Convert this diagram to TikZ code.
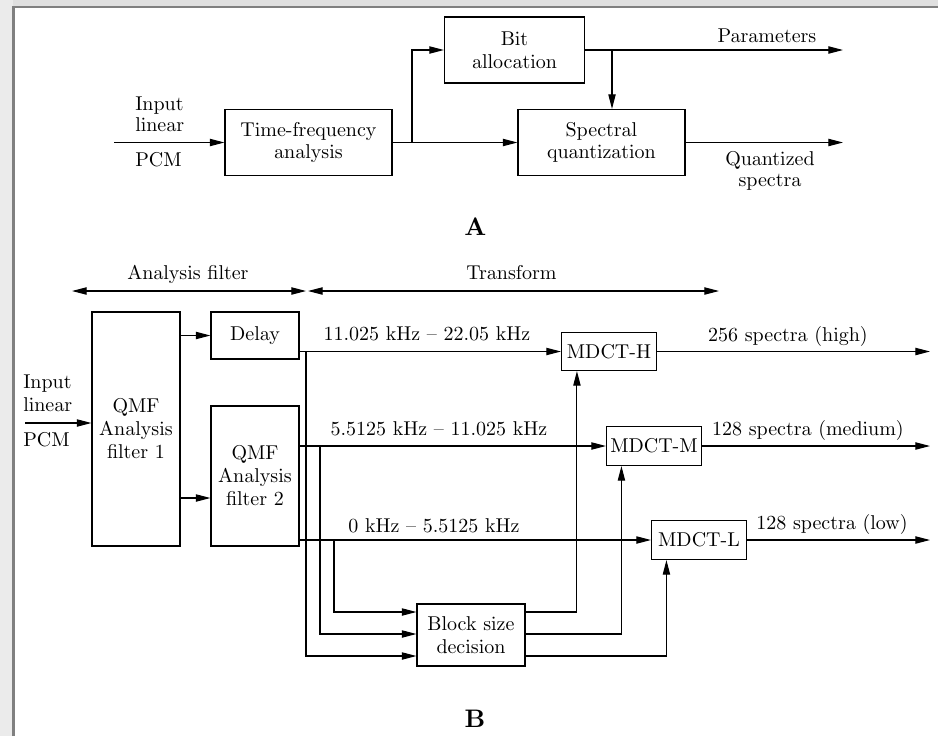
\documentclass[tikz,border=0pt]{standalone}
\usetikzlibrary{arrows.meta,calc}
\font\diagfont=cmr10 at 15pt
\font\diagbf=cmbx10 at 19pt
\newcommand\dgfont{\diagfont\baselineskip=17.2pt\relax}
\begin{document}
\begin{tikzpicture}[x=0.75pt,y=-0.75pt,
  every node/.style={font=\dgfont, inner sep=0pt},
  box/.style 2 args={draw, line width=0.85pt, minimum width=#1*0.75pt, minimum height=#2*0.75pt, align=center},
  arr/.style={line width=0.8pt, -{Triangle[length=11pt,width=5.5pt]}},
  dbl/.style={line width=0.8pt, {Triangle[length=11pt,width=5.5pt]}-{Triangle[length=11pt,width=5.5pt]}},
  lbl/.style={font=\diagbf}
]
\useasboundingbox (0,0) rectangle (938,736);
\fill[white] (0,0) rectangle (938,736);
\fill[black!12] (0,0) rectangle (938,7);
\fill[black!8] (0,0) rectangle (13,736);
\draw[black!50, line width=1.8pt] (13.5,736) -- (13.5,7) -- (938,7);

% ---------- Part A ----------
\node[box={167}{66}] (tf) at (308.5,142.5) {Time-frequency\\analysis};
\node[box={140}{66}] (ba) at (514.5,50) {Bit\\allocation};
\node[box={167}{66}] (sq) at (601.5,142.5) {Spectral\\quantization};
\coordinate (inA) at (114,142.5);
\coordinate (j1) at (412,142.5);
\coordinate (j2) at (612,50);
\coordinate (pout) at (843,50);
\coordinate (qout) at (843,142.5);
\draw[arr] (inA) -- (tf.west);
\draw[arr] (tf.east) -- (sq.west);
\draw[arr] (j1) |- (ba.west);
\draw[arr] (ba.east) -- (pout);
\draw[arr] (j2) -- (j2 |- sq.north);
\draw[arr] (sq.east) -- (qout);
\node[anchor=base west] (ain1) at (135,110) {Input};
\node[anchor=base west] (ain2) at (135,131.7) {linear};
\node[anchor=base west] (ain3) at (135,166.7) {PCM};
\node[anchor=base] (tpar) at (767,42.7) {Parameters};
\node[anchor=base] (tq1) at (770,165) {Quantized};
\node[anchor=base] (tq2) at (770,186) {spectra};
\node[lbl] (la) at (475.5,227) {A};

% ---------- Part B ----------
\node[box={88}{234}] (q1) at (136,429) {QMF\\Analysis\\filter 1};
\node[box={88}{47}] (dl) at (255,335.5) {Delay};
\node[box={88}{140}] (q2) at (255,476) {QMF\\Analysis\\filter 2};
\node[box={95}{38}] (mh) at (609,351.5) {MDCT-H};
\node[box={95}{39}] (mm) at (654,446) {MDCT-M};
\node[box={95}{39}] (ml) at (699,540) {MDCT-L};
\node[box={108}{62}] (bs) at (471,635) {Block size\\decision};

\coordinate (afL) at (72,291);
\coordinate (afR) at (306,291);
\coordinate (trL) at (308,291);
\coordinate (trR) at (719,291);
\draw[dbl] (afL) -- (afR);
\draw[dbl] (trL) -- (trR);
\node[anchor=base] (taf) at (188,279) {Analysis filter};
\node[anchor=base] (ttr) at (511.5,279) {Transform};

\coordinate (inB) at (25,423);
\coordinate (q2in) at (211,498);
\draw[arr] (inB) -- (inB -| q1.west);
\draw[arr] (dl.west -| q1.east) -- (dl.west);
\draw[arr] (q2in -| q1.east) -- (q2in -| q2.west);
\node[anchor=base west] (bin1) at (23,388) {Input};
\node[anchor=base west] (bin2) at (23,411.7) {linear};
\node[anchor=base west] (bin3) at (23,446) {PCM};

\draw[arr] (mh.west -| dl.east) -- (mh.west);
\draw[arr] (mm.west -| q2.east) -- (mm.west);
\draw[arr] (ml.west -| q2.east) -- (ml.west);
\node[anchor=base] (th) at (427,340.7) {11.025 kHz -- 22.05 kHz};
\node[anchor=base] (tm) at (439,435.7) {5.5125 kHz -- 11.025 kHz};
\node[anchor=base] (tl) at (434,532.7) {0 kHz -- 5.5125 kHz};

\coordinate (vh) at (306,351.5);
\coordinate (vm) at (320,446);
\coordinate (vl) at (334,540);
\draw[arr] (vh) |- ($(bs.west)+(0,21)$);
\draw[arr] (vm) |- ($(bs.west)+(0,-1)$);
\draw[arr] (vl) |- ($(bs.west)+(0,-23)$);
\draw[arr] ($(bs.east)+(0,-23)$) -| ($(mh.south west)+(16,0)$);
\draw[arr] ($(bs.east)+(0,-1)$) -| ($(mm.south west)+(15.5,0)$);
\draw[arr] ($(bs.east)+(0,21)$) -| ($(ml.south west)+(15.5,0)$);

\coordinate (rB) at (930,0);
\draw[arr] (mh.east) -- (mh.east -| rB);
\draw[arr] (mm.east) -- (mm.east -| rB);
\draw[arr] (ml.east) -- (ml.east -| rB);
\node[anchor=base] (oh) at (788,341) {256 spectra (high)};
\node[anchor=base] (om) at (808,435.7) {128 spectra (medium)};
\node[anchor=base] (ol) at (832,529) {128 spectra (low)};
\node[lbl] (lb) at (475,719) {B};
\end{tikzpicture}
\end{document}
